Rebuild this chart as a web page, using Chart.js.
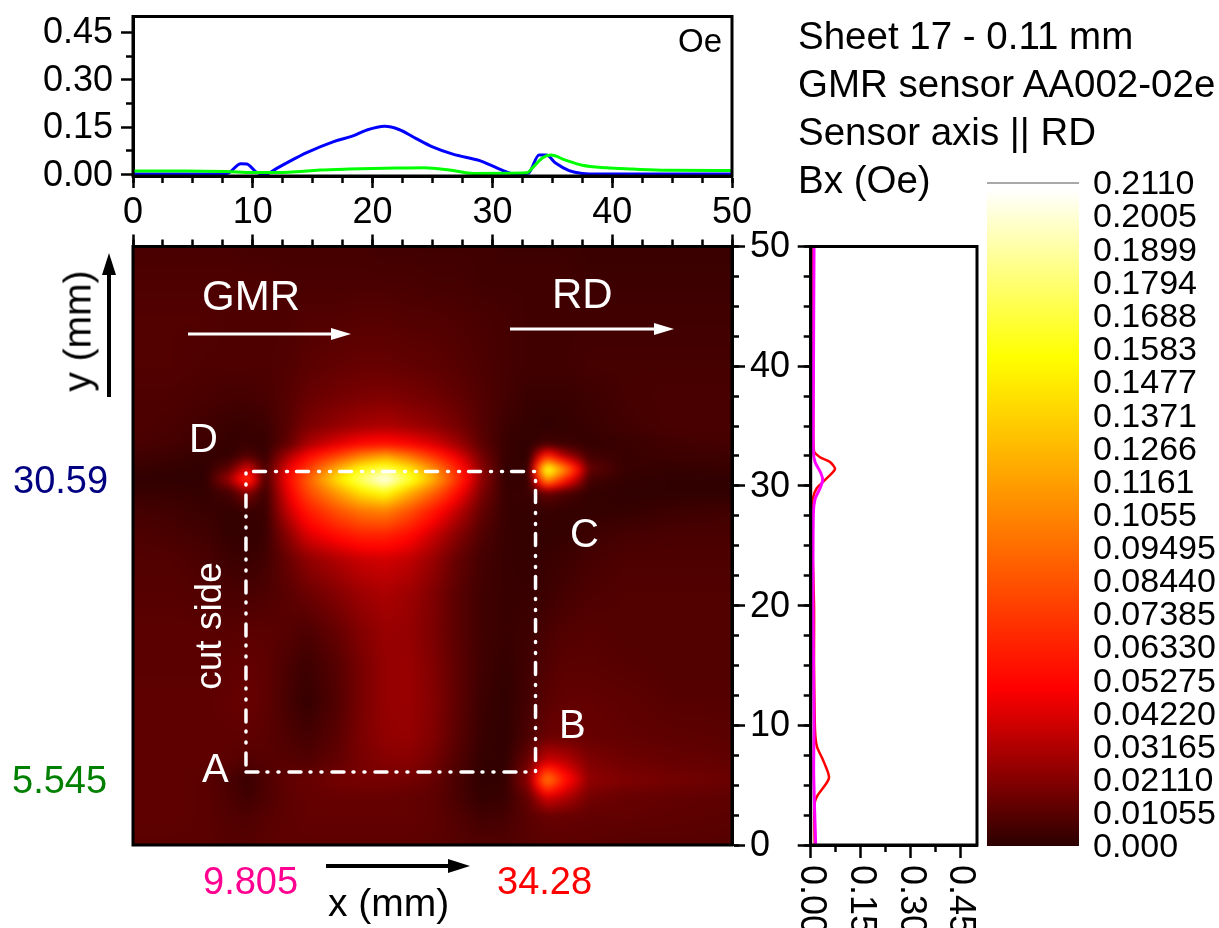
<!DOCTYPE html>
<html lang="en">
<head>
<meta charset="UTF-8">
<title>Sheet 17 - Bx map</title>
<script src="https://cdn.jsdelivr.net/npm/chart.js"></script>
<style>
  html, body { margin: 0; padding: 0; background: #fff; overflow: hidden; width: 1219px; height: 928px; }
  canvas { position: absolute; left: 0; top: 0; }
  .t { position: absolute; white-space: nowrap; font-family: "Liberation Sans", Arial, sans-serif; font-size: 38.5px; line-height: 1; color: #000; transform: translateY(-50%); }
  .w { color: #fff; }
  .rot { transform: translate(-50%, -50%) rotate(-90deg); }
</style>
</head>
<body>
<canvas id="chartTop" width="1219" height="928"></canvas>
<canvas id="chartMap" width="1219" height="928"></canvas>
<canvas id="chartRight" width="1219" height="928"></canvas>
<canvas id="chartBar" width="1219" height="928"></canvas>

<div class="t" style="left:798px;top:36px">Sheet 17 - 0.11 mm</div>
<div class="t" style="left:798px;top:84px">GMR sensor AA002-02e</div>
<div class="t" style="left:798px;top:132px">Sensor axis || RD</div>
<div class="t" style="left:798px;top:180px">Bx (Oe)</div>
<div class="t" style="left:678px;top:40px;font-size:33px">Oe</div>
<div class="t" style="left:13px;top:480px;font-size:38px;color:#000080">30.59</div>
<div class="t" style="left:12px;top:780px;font-size:38px;color:#008000">5.545</div>
<div class="t" style="left:203px;top:881px;font-size:38px;color:#ff0090">9.805</div>
<div class="t" style="left:497px;top:881px;font-size:38px;color:#ff0000">34.28</div>
<div class="t" style="left:328px;top:902px;font-size:39px">x (mm)</div>
<div class="t rot" style="left:77px;top:331px;font-size:39px">y (mm)</div>
<div class="t w" style="left:202px;top:296px;font-size:42px">GMR</div>
<div class="t w" style="left:552px;top:294px;font-size:42px">RD</div>
<div class="t w" style="left:189px;top:438px;font-size:40px">D</div>
<div class="t w" style="left:570px;top:533px;font-size:40px">C</div>
<div class="t w" style="left:559px;top:724px;font-size:40px">B</div>
<div class="t w" style="left:202px;top:768px;font-size:40px">A</div>
<div class="t w rot" style="left:208px;top:626px;font-size:37px">cut side</div>

<script>
  // horizontal profiles (top panel)
  const blueX = [0, 5, 7.5, 8, 9, 9.5, 10.3, 11, 12, 13.1, 14.5, 16.7, 18.3, 19.5, 21, 22.2, 23.6, 25, 26.7, 29, 30, 31.4, 32.2, 33, 33.9, 34.5, 35.3, 36.4, 37.5, 38.9, 50];
  const blueY = [0.002, 0.002, 0.002, 0.006, 0.035, 0.034, 0.008, 0.001, 0.02, 0.043, 0.07, 0.104, 0.122, 0.141, 0.153, 0.143, 0.115, 0.088, 0.065, 0.044, 0.028, 0.006, 0.002, 0.005, 0.062, 0.062, 0.036, 0.013, 0.004, 0.002, 0.002];
  const greenX = [0, 4.4, 7.8, 10, 13, 15.6, 18, 22, 24.3, 26.4, 28.4, 32.9, 33.3, 34.2, 34.9, 36.1, 37.5, 39.5, 41.7, 44.5, 50];
  const greenY = [0.012, 0.012, 0.01, 0.007, 0.008, 0.015, 0.018, 0.021, 0.022, 0.015, 0.004, 0.006, 0.02, 0.054, 0.062, 0.046, 0.03, 0.022, 0.018, 0.014, 0.013];

  // vertical profiles (right panel)
  const redY = [0, 3.5, 4.2, 5.6, 7.1, 8.2, 9.6, 15, 20, 25, 27.7, 28.9, 29.8, 30.5, 31.4, 32, 32.4, 32.9, 37, 50];
  const redV = [0.012, 0.012, 0.022, 0.055, 0.037, 0.019, 0.013, 0.01, 0.01, 0.005, 0.003, 0.006, 0.018, 0.043, 0.073, 0.058, 0.028, 0.01, 0.008, 0.008];
  const magentaY = [0, 6, 10, 20, 27.7, 28.9, 29.8, 30.5, 31.1, 32, 32.9, 37, 50];
  const magentaV = [0.015, 0.009, 0.01, 0.007, 0.008, 0.013, 0.028, 0.036, 0.03, 0.013, 0.008, 0.008, 0.01];

  // colour bar labels
  const barTicks = ['0.000', '0.01055', '0.02110', '0.03165', '0.04220', '0.05275', '0.06330', '0.07385', '0.08440', '0.09495', '0.1055', '0.1161', '0.1266', '0.1371', '0.1477', '0.1583', '0.1688', '0.1794', '0.1899', '0.2005', '0.2110'];
  const rightTicks = ['0.00', '0.15', '0.30', '0.45'];

  // map nodes, values in 0.001 Oe, rows from y=50 down to y=0
  const xNodes = [0, 3, 6, 8, 9.5, 11, 13, 14.5, 17, 19, 21, 23, 25, 27, 29, 31, 33, 34.5, 36, 38, 41, 45, 50];
  const yNodes = [50, 47, 44, 40, 37.5, 35, 33.5, 32.5, 31.4, 30.6, 29.5, 28, 26, 24, 21, 18, 15, 12, 9, 7, 5.5, 4, 2.5, 0];
  const bxRows = [
    [7, 7, 7, 7, 6, 6, 6, 6, 6, 6, 5, 5, 5, 5, 5, 4, 4, 4, 4, 3, 3, 3, 3],
    [8, 8, 8, 8, 8, 8, 7, 7, 7, 7, 7, 7, 6, 6, 5, 5, 5, 5, 5, 4, 4, 4, 4],
    [9, 9, 9, 8, 8, 8, 8, 9, 9, 10, 10, 9, 9, 8, 7, 6, 5, 5, 5, 5, 5, 5, 5],
    [9, 9, 8, 8, 8, 8, 9, 11, 13, 14, 14, 13, 12, 10, 8, 6, 5, 5, 5, 6, 6, 6, 6],
    [8, 8, 7, 6, 6, 7, 10, 14, 17, 19, 20, 18, 16, 13, 9, 6, 3, 3, 3, 4, 6, 7, 7],
    [8, 7, 5, 3, 3, 4, 11, 19, 25, 29, 31, 28, 24, 18, 10, 4, 2, 1, 2, 3, 5, 7, 7],
    [7, 6, 4, 2, 3, 2, 14, 30, 44, 54, 58, 52, 42, 28, 12, 3, 1, 6, 4, 2, 3, 5, 6],
    [5, 4, 2, 2, 10, 3, 32, 52, 80, 105, 120, 100, 72, 46, 18, 3, 1, 70, 32, 6, 3, 4, 4],
    [3, 2, 1, 14, 45, 6, 48, 74, 125, 160, 175, 150, 112, 65, 23, 2, 2, 175, 110, 14, 3, 2, 3],
    [1, 1, 1, 28, 75, 6, 54, 88, 145, 180, 211, 170, 125, 72, 25, 2, 2, 120, 65, 6, 2, 1, 1],
    [3, 3, 2, 6, 22, 3, 48, 78, 115, 145, 160, 125, 92, 55, 20, 3, 3, 14, 8, 2, 1, 1, 1],
    [6, 5, 3, 2, 3, 3, 38, 60, 85, 100, 105, 85, 60, 36, 14, 3, 2, 3, 2, 2, 2, 4, 5],
    [8, 7, 5, 2, 2, 3, 24, 42, 56, 65, 65, 55, 38, 22, 9, 3, 2, 2, 2, 4, 6, 7, 7],
    [9, 9, 7, 4, 3, 5, 15, 24, 32, 38, 40, 36, 26, 14, 6, 3, 2, 3, 4, 6, 8, 8, 8],
    [10, 10, 9, 7, 7, 8, 11, 15, 21, 27, 30, 27, 20, 11, 5, 3, 3, 4, 6, 8, 9, 9, 9],
    [11, 11, 11, 10, 11, 11, 10, 8, 14, 21, 26, 25, 19, 11, 5, 3, 4, 7, 9, 10, 9, 9, 9],
    [11, 11, 11, 12, 13, 12, 7, 4, 10, 18, 25, 26, 20, 12, 5, 2, 5, 9, 11, 11, 10, 9, 9],
    [12, 12, 12, 13, 14, 12, 6, 2, 9, 18, 25, 26, 21, 12, 4, 1, 6, 11, 13, 13, 12, 10, 10],
    [12, 12, 12, 12, 12, 11, 8, 6, 11, 19, 24, 25, 20, 11, 3, 1, 8, 15, 15, 14, 13, 12, 11],
    [12, 12, 12, 11, 9, 10, 10, 9, 13, 18, 21, 22, 17, 9, 2, 1, 16, 40, 35, 20, 16, 14, 13],
    [12, 12, 11, 7, 3, 8, 13, 14, 17, 18, 18, 17, 14, 7, 1, 2, 24, 105, 60, 24, 20, 17, 15],
    [12, 12, 11, 8, 5, 8, 12, 13, 14, 14, 14, 13, 12, 7, 2, 3, 14, 40, 32, 17, 14, 13, 12],
    [12, 12, 11, 9, 8, 10, 12, 13, 13, 13, 13, 13, 12, 9, 5, 6, 11, 14, 14, 13, 13, 12, 11],
    [11, 11, 11, 10, 10, 11, 12, 12, 12, 12, 12, 12, 11, 10, 9, 9, 10, 11, 11, 11, 10, 10, 10]
  ];

  // white dash-dot frame A-B-C-D
  const frameX = [9.43, 33.6, 33.6, 9.43, 9.43];
  const frameY = [6.1, 6.1, 31.2, 31.2, 6.1];

  const FONT = '"Liberation Sans", Arial, sans-serif';
  Chart.defaults.font.family = FONT;
  Chart.defaults.font.size = 36;
  Chart.defaults.color = '#000';
  Chart.defaults.animation = false;
  Chart.defaults.responsive = false;
  Chart.defaults.plugins.legend.display = false;
  Chart.defaults.plugins.tooltip.enabled = false;

  const zip = (xs, ys) => xs.map((x, i) => ({ x: x, y: ys[i] }));

  // axes get a fixed size so the plot box stays where layout.padding puts it
  const fixedSize = n => s => {
    if (s.isHorizontal()) s.height = n; else s.width = n;
    s.paddingLeft = s.paddingRight = s.paddingTop = s.paddingBottom = 0;
  };

  function box(l, t, r, b) {
    return { padding: { left: l, top: t, right: 1219 - r, bottom: 928 - b }, autoPadding: false };
  }

  // tick-mark axis, extra can turn labels on
  function axis(position, min, max, step, tickLen, extra) {
    return Object.assign({
      type: 'linear', position: position, min: min, max: max, afterFit: fixedSize(0),
      border: { display: true, color: '#000', width: 3 },
      grid: { drawOnChartArea: false, tickLength: tickLen, tickWidth: 2.5, tickColor: '#000' },
      ticks: { display: false, stepSize: step }
    }, extra || {});
  }

  const frame = {
    id: 'frame',
    afterDraw(chart) {
      const a = chart.chartArea, c = chart.ctx;
      c.save();
      c.strokeStyle = '#000';
      c.lineWidth = 3;
      c.strokeRect(a.left, a.top, a.right - a.left, a.bottom - a.top);
      c.restore();
    }
  };

  // colour map, same stops for the map and the bar
  const cmap = [
    [0, [44, 0, 0]],
    [0.0503, [255, 0, 0]],
    [0.103, [255, 128, 0]],
    [0.1556, [255, 255, 0]],
    [0.209, [255, 255, 255]]
  ];
  function colorOf(v) {
    for (let i = 1; i < cmap.length; i++) {
      if (v <= cmap[i][0]) {
        const f = Math.max(0, (v - cmap[i - 1][0]) / (cmap[i][0] - cmap[i - 1][0]));
        const a = cmap[i - 1][1], b = cmap[i][1];
        return [a[0] + (b[0] - a[0]) * f, a[1] + (b[1] - a[1]) * f, a[2] + (b[2] - a[2]) * f];
      }
    }
    return [255, 255, 255];
  }

  // top panel
  new Chart(document.getElementById('chartTop'), {
    type: 'scatter',
    data: {
      datasets: [
        { data: zip(greenX, greenY), showLine: true, borderColor: '#00ff00', borderWidth: 3, pointRadius: 0, cubicInterpolationMode: 'monotone' },
        { data: zip(blueX, blueY), showLine: true, borderColor: '#0000ff', borderWidth: 3, pointRadius: 0, cubicInterpolationMode: 'monotone' }
      ]
    },
    options: {
      layout: { padding: { left: 0, top: 16.5, right: 1219 - 732, bottom: 928 - 176 - 60 } },
      scales: {
        xm: axis('bottom', 0, 50, 2.5, 7),
        x: axis('bottom', 0, 50, 10, 12, { weight: 1, afterFit: fixedSize(60), ticks: { display: true, stepSize: 10, padding: 3, maxRotation: 0 } }),
        ym: axis('left', -0.004, 0.5, 0.075, 7, {
          afterBuildTicks: s => { s.ticks = [0.075, 0.225, 0.375].map(v => ({ value: v })); }
        }),
        y: axis('left', -0.004, 0.5, 0.15, 12, {
          weight: 1, afterFit: fixedSize(133),
          afterBuildTicks: s => { s.ticks = [0, 0.15, 0.3, 0.45].map(v => ({ value: v })); },
          ticks: { display: true, padding: 8, labelOffset: 1, callback: v => v.toFixed(2) }
        })
      }
    },
    plugins: [frame]
  });

  // map panel
  const bxPoints = [];
  bxRows.forEach((row, i) => row.forEach((v, j) => bxPoints.push({ x: xNodes[j], y: yNodes[i], v: v / 1000 })));

  function nodeIndex(nodes, val) {
    let i = 0;
    if (nodes[0] < nodes[1]) { while (i < nodes.length - 2 && val > nodes[i + 1]) i++; }
    else { while (i < nodes.length - 2 && val < nodes[i + 1]) i++; }
    return i;
  }

  const heat = {
    id: 'heat',
    beforeDatasetsDraw(chart) {
      const a = chart.chartArea, sx = chart.scales.x, sy = chart.scales.y, c = chart.ctx;
      const pts = chart.data.datasets[1].data, nx = xNodes.length, m = 8;
      const w = Math.ceil(a.right - a.left) + 2 * m, h = Math.ceil(a.bottom - a.top) + 2 * m;
      const off = document.createElement('canvas');
      off.width = w; off.height = h;
      const oc = off.getContext('2d'), img = oc.createImageData(w, h);
      for (let py = 0; py < h; py++) {
        const yv = Math.min(50, Math.max(0, sy.getValueForPixel(a.top - m + py)));
        const i = nodeIndex(yNodes, yv);
        const fy = (yv - yNodes[i]) / (yNodes[i + 1] - yNodes[i]);
        for (let px = 0; px < w; px++) {
          const xv = Math.min(50, Math.max(0, sx.getValueForPixel(a.left - m + px)));
          const j = nodeIndex(xNodes, xv);
          const fx = (xv - xNodes[j]) / (xNodes[j + 1] - xNodes[j]);
          const v = (pts[i * nx + j].v * (1 - fx) + pts[i * nx + j + 1].v * fx) * (1 - fy)
            + (pts[(i + 1) * nx + j].v * (1 - fx) + pts[(i + 1) * nx + j + 1].v * fx) * fy;
          const col = colorOf(v), k = (py * w + px) * 4;
          img.data[k] = col[0]; img.data[k + 1] = col[1]; img.data[k + 2] = col[2]; img.data[k + 3] = 255;
        }
      }
      oc.putImageData(img, 0, 0);
      c.save();
      c.beginPath();
      c.rect(a.left, a.top, a.right - a.left, a.bottom - a.top);
      c.clip();
      c.filter = 'blur(3px)';
      c.drawImage(off, a.left - m, a.top - m);
      c.restore();
    }
  };

  function arrow(c, x1, y1, x2, y2, color, lw, headLen, headW) {
    const ang = Math.atan2(y2 - y1, x2 - x1);
    c.save();
    c.translate(x1, y1);
    c.rotate(ang);
    const len = Math.hypot(x2 - x1, y2 - y1);
    c.strokeStyle = color;
    c.fillStyle = color;
    c.lineWidth = lw;
    c.beginPath();
    c.moveTo(0, 0);
    c.lineTo(len - headLen + 2, 0);
    c.stroke();
    c.beginPath();
    c.moveTo(len, 0);
    c.lineTo(len - headLen, -headW / 2);
    c.lineTo(len - headLen, headW / 2);
    c.closePath();
    c.fill();
    c.restore();
  }

  const arrows = {
    id: 'arrows',
    afterDraw(chart) {
      const c = chart.ctx;
      arrow(c, 188, 334, 351, 334, '#fff', 3, 20, 12);
      arrow(c, 510, 329, 674, 329, '#fff', 3, 20, 12);
      arrow(c, 326, 866, 470, 866, '#000', 4, 22, 14);
      arrow(c, 109, 397, 109, 253, '#000', 4, 22, 14);
    }
  };

  new Chart(document.getElementById('chartMap'), {
    type: 'scatter',
    data: {
      datasets: [
        { data: zip(frameX, frameY), showLine: true, borderColor: '#fff', borderWidth: 3.5, pointRadius: 0, borderCapStyle: 'round', borderDash: [12, 9, 1, 10, 1, 10] },
        { data: bxPoints, showLine: false, pointRadius: 0 }
      ]
    },
    options: {
      layout: { padding: { left: 133, top: 246.5, right: 1219 - 732 - 70, bottom: 928 - 845 } },
      scales: {
        x: { type: 'linear', position: 'bottom', min: 0, max: 50, display: false },
        y: { type: 'linear', position: 'left', min: 0, max: 50, display: false },
        xt: axis('top', 0, 50, 10, 12),
        xtm: axis('top', 0, 50, 2.5, 7),
        yrm: axis('right', 0, 50, 2.5, 7),
        yr: axis('right', 0, 50, 10, 13, { weight: 1, afterFit: fixedSize(70), ticks: { display: true, stepSize: 10, padding: 5, labelOffset: 1 } })
      }
    },
    plugins: [heat, frame, arrows]
  });

  // right panel
  const rotatedTicks = {
    id: 'rotatedTicks',
    afterDraw(chart) {
      const c = chart.ctx, s = chart.scales.x;
      c.save();
      c.fillStyle = '#000';
      c.font = '36px ' + FONT;
      c.textAlign = 'left';
      c.textBaseline = 'middle';
      rightTicks.forEach(t => {
        c.save();
        c.translate(s.getPixelForValue(Number(t)), 865);
        c.rotate(Math.PI / 2);
        c.fillText(t, 0, 0);
        c.restore();
      });
      c.restore();
    }
  };

  new Chart(document.getElementById('chartRight'), {
    type: 'scatter',
    data: {
      datasets: [
        { data: zip(magentaV, magentaY), showLine: true, borderColor: '#ff00ff', borderWidth: 3, pointRadius: 0, tension: 0.25 },
        { data: zip(redV, redY), showLine: true, borderColor: '#ff0000', borderWidth: 2.5, pointRadius: 0, tension: 0.25 }
      ]
    },
    options: {
      layout: box(810.7, 246.5, 977, 845),
      scales: {
        x: axis('bottom', 0, 0.5, 0.15, 13, {
          afterBuildTicks: s => { s.ticks = [0, 0.15, 0.3, 0.45].map(v => ({ value: v })); }
        }),
        xm: axis('bottom', 0, 0.5, 0.075, 7, {
          afterBuildTicks: s => { s.ticks = [0.075, 0.225, 0.375].map(v => ({ value: v })); }
        }),
        y: axis('left', 0, 50, 10, 13),
        ym: axis('left', 0, 50, 2.5, 7)
      }
    },
    plugins: [frame, rotatedTicks]
  });

  // colour bar
  const barMax = Number(barTicks[barTicks.length - 1]);
  const topLine = {
    id: 'topLine',
    afterDraw(chart) {
      const a = chart.chartArea, c = chart.ctx;
      c.save();
      c.strokeStyle = '#8c8c8c';
      c.lineWidth = 1.5;
      c.beginPath();
      c.moveTo(a.left, a.top);
      c.lineTo(a.right, a.top);
      c.stroke();
      c.restore();
    }
  };

  new Chart(document.getElementById('chartBar'), {
    type: 'bar',
    data: {
      labels: ['Bx'],
      datasets: [{
        data: [[0, barMax]],
        barPercentage: 1,
        categoryPercentage: 1,
        backgroundColor(ctx) {
          const s = ctx.chart.scales.y;
          const y0 = s ? s.getPixelForValue(0) : NaN, y1 = s ? s.getPixelForValue(barMax) : NaN;
          if (!Number.isFinite(y0) || !Number.isFinite(y1)) return '#000';
          const g = ctx.chart.ctx.createLinearGradient(0, y0, 0, y1);
          cmap.forEach(st => {
            g.addColorStop(st[0] / barMax, 'rgb(' + st[1].join(',') + ')');
          });
          g.addColorStop(1, '#fff');
          return g;
        }
      }]
    },
    options: {
      layout: { padding: { left: 987, top: 183, right: 0, bottom: 928 - 846 } },
      scales: {
        x: { display: false },
        y: {
          type: 'linear', position: 'right', min: 0, max: barMax, afterFit: fixedSize(140),
          border: { display: false },
          grid: { display: false, drawTicks: false },
          afterBuildTicks: s => { s.ticks = barTicks.map(t => ({ value: Number(t) })); },
          afterTickToLabelConversion: s => { s.ticks.forEach((t, i) => { t.label = barTicks[i]; }); },
          ticks: { autoSkip: false, padding: 14, labelOffset: 2, font: { size: 34 } }
        }
      }
    },
    plugins: [topLine]
  });
</script>
</body>
</html>
